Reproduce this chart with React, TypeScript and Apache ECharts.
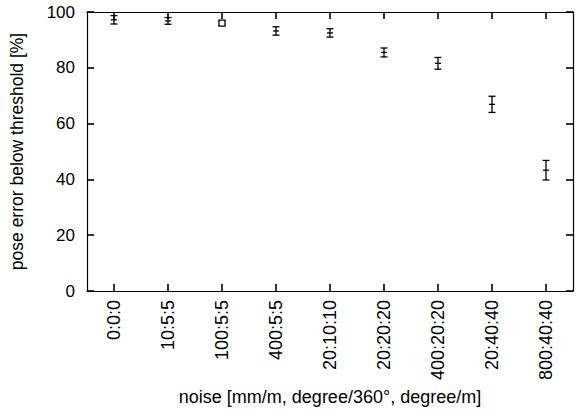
import React, { useEffect, useRef } from "react";
import * as echarts from "echarts";

const categories = ["0:0:0", "10:5:5", "100:5:5", "400:5:5", "20:10:10", "20:20:20", "400:20:20", "20:40:40", "800:40:40"];
const values = [97.2, 96.8, 96.0, 93.2, 92.5, 85.5, 81.6, 66.9, 43.3];
const errors = [1.5, 1.2, 0.8, 1.5, 1.5, 1.6, 2.1, 2.9, 3.5];
const markers = ["plus", "plus", "square", "plus", "plus", "plus", "plus", "plus", "plus"];
const yTicks = [0, 20, 40, 60, 80, 100];

const FONT = "'Liberation Sans', Arial, Helvetica, sans-serif";

export default function App() {
  const ref = useRef<HTMLDivElement>(null);
  useEffect(() => {
    document.body.style.margin = "0";
    const chart = echarts.init(ref.current!, null, { renderer: "svg" });
    const data = values.map((v, i) => [i, v, v - errors[i], v + errors[i]]);
    const axisLine = { show: true, onZero: false, lineStyle: { color: "#000", width: 1.2 } };
    const tick = { show: true, inside: true, length: 7, lineStyle: { color: "#000", width: 1.6 } };
    chart.setOption({
      animation: false,
      backgroundColor: "#fff",
      textStyle: { fontFamily: FONT, color: "#000" },
      grid: { left: 86, right: 11, top: 12, bottom: 123, show: false },
      xAxis: [
        {
          type: "category",
          data: categories,
          boundaryGap: true,
          position: "bottom",
          axisLine,
          axisTick: { ...tick, alignWithLabel: true, interval: 0 },
          axisLabel: { rotate: 90, margin: 9, fontSize: 18, color: "#000", fontFamily: FONT, interval: 0 },
          name: "noise [mm/m, degree/360°, degree/m]",
          nameLocation: "middle",
          nameGap: 86,
          nameTextStyle: { fontSize: 18, color: "#000", fontFamily: FONT },
        },
        {
          type: "category",
          data: categories,
          boundaryGap: true,
          position: "top",
          axisLine,
          axisTick: { ...tick, alignWithLabel: true, interval: 0 },
          axisLabel: { show: false, interval: 0 },
        },
      ],
      yAxis: [
        {
          type: "value",
          min: yTicks[0],
          max: yTicks[yTicks.length - 1],
          interval: 20,
          position: "left",
          axisLine,
          axisTick: tick,
          splitLine: { show: false },
          axisLabel: { margin: 12, fontSize: 17, color: "#000", fontFamily: FONT },
          name: "pose error below threshold [%]",
          nameLocation: "middle",
          nameGap: 61,
          nameRotate: 90,
          nameTextStyle: { fontSize: 17.5, color: "#000", fontFamily: FONT },
        },
        {
          type: "value",
          min: yTicks[0],
          max: yTicks[yTicks.length - 1],
          interval: 20,
          position: "right",
          axisLine,
          axisTick: tick,
          splitLine: { show: false },
          axisLabel: { show: false },
        },
      ],
      series: [
        {
          type: "custom",
          xAxisIndex: 0,
          yAxisIndex: 0,
          data,
          renderItem: (params: any, api: any) => {
            const i = api.value(0);
            const c = api.coord([i, api.value(1)]);
            const lo = api.coord([i, api.value(2)]);
            const hi = api.coord([i, api.value(3)]);
            const cap = 3.5;
            const st = { stroke: "#000", lineWidth: 1.3, fill: "none" };
            const children: any[] = [
              { type: "line", shape: { x1: c[0], y1: hi[1], x2: c[0], y2: lo[1] }, style: st },
              { type: "line", shape: { x1: c[0] - cap, y1: hi[1], x2: c[0] + cap, y2: hi[1] }, style: st },
              { type: "line", shape: { x1: c[0] - cap, y1: lo[1], x2: c[0] + cap, y2: lo[1] }, style: st },
            ];
            if (markers[params.dataIndex] === "square") {
              children.push({ type: "rect", shape: { x: c[0] - 3, y: c[1] - 3, width: 6, height: 6 }, style: { stroke: "#000", lineWidth: 1.3, fill: "#fff" } });
            } else {
              children.push({ type: "line", shape: { x1: c[0] - 3, y1: c[1], x2: c[0] + 3, y2: c[1] }, style: st });
            }
            return { type: "group", children };
          },
        },
      ],
    });
    return () => chart.dispose();
  }, []);
  return <div ref={ref} style={{ position: "absolute", left: 0, top: 0, width: 584, height: 414 }} />;
}
